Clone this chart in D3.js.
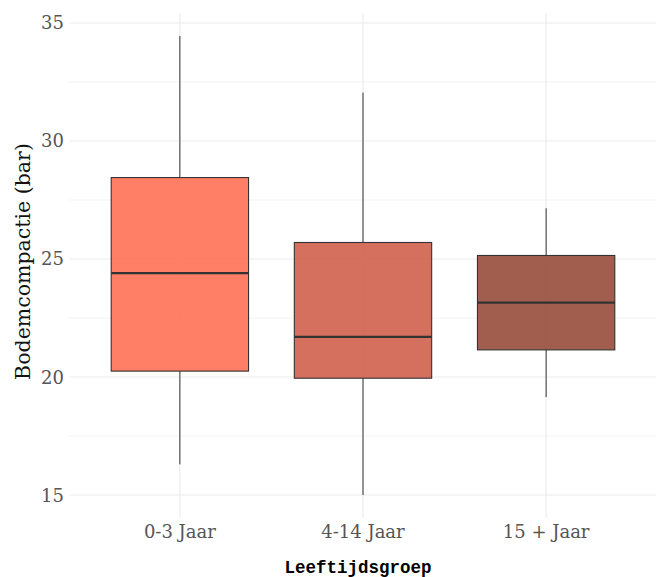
<!DOCTYPE html>
<html><head><meta charset="utf-8">
<script src="https://cdn.jsdelivr.net/npm/d3@7"></script>
<style>body{margin:0;background:#fff}</style>
</head><body>
<svg id="c" width="659" height="577"></svg>
<script>
const categories = ["0-3 Jaar", "4-14 Jaar", "15 + Jaar"];
const whiskerLow = [16.3, 15.0, 19.15];
const q1 = [20.25, 19.95, 21.15];
const median = [24.4, 21.7, 23.15];
const q3 = [28.45, 25.7, 25.15];
const whiskerHigh = [34.45, 32.05, 27.15];
const fills = ["#FF7155", "#D1604D", "#974C3C"];
const yTicks = [15, 20, 25, 30, 35];
const yMinor = [17.5, 22.5, 27.5, 32.5];

const data = categories.map((c, i) => ({c, lo: whiskerLow[i], q1: q1[i], med: median[i], q3: q3[i], hi: whiskerHigh[i], fill: fills[i]}));

const svg = d3.select("#c");
const L = 70, R = 656, T = 13, B = 518;
const yMin = d3.min(whiskerLow), yMax = d3.max(whiskerHigh);
const pad = (yMax - yMin) * 0.05;
const y = d3.scaleLinear().domain([yMin - pad, yMax + pad]).range([B, T]);
const x = d3.scalePoint().domain(categories)
  .range([L + (R - L) * 0.6 / 3.2, R - (R - L) * 0.6 / 3.2]);
const step = x.step();
const cx = d => x(d);
const bw = step * 0.75;

const g = svg.append("g");
g.selectAll(".minor").data(yMinor).join("line")
  .attr("x1", L).attr("x2", R).attr("y1", d => y(d)).attr("y2", d => y(d))
  .attr("stroke", "#f3f3f3").attr("stroke-width", 1);
g.selectAll(".major").data(yTicks).join("line")
  .attr("x1", L).attr("x2", R).attr("y1", d => y(d)).attr("y2", d => y(d))
  .attr("stroke", "#ebebeb").attr("stroke-width", 1.1);
g.selectAll(".vg").data(categories).join("line")
  .attr("x1", d => cx(d)).attr("x2", d => cx(d)).attr("y1", T).attr("y2", B)
  .attr("stroke", "#ebebeb").attr("stroke-width", 1.1);

g.selectAll(".wu").data(data).join("line")
  .attr("x1", d => cx(d.c)).attr("x2", d => cx(d.c)).attr("y1", d => y(d.hi)).attr("y2", d => y(d.q3))
  .attr("stroke", "#333").attr("stroke-width", 1);
g.selectAll(".wl").data(data).join("line")
  .attr("x1", d => cx(d.c)).attr("x2", d => cx(d.c)).attr("y1", d => y(d.q1)).attr("y2", d => y(d.lo))
  .attr("stroke", "#333").attr("stroke-width", 1);
g.selectAll(".box").data(data).join("rect")
  .attr("x", d => cx(d.c) - bw / 2).attr("width", bw)
  .attr("y", d => y(d.q3)).attr("height", d => y(d.q1) - y(d.q3))
  .attr("fill", d => d.fill).attr("fill-opacity", 0.9)
  .attr("stroke", "#333").attr("stroke-width", 1.1);
g.selectAll(".med").data(data).join("line")
  .attr("x1", d => cx(d.c) - bw / 2).attr("x2", d => cx(d.c) + bw / 2)
  .attr("y1", d => y(d.med)).attr("y2", d => y(d.med))
  .attr("stroke", "#333").attr("stroke-width", 2.2);

const serif = "'DejaVu Serif', 'Liberation Serif', serif";
svg.append("g").selectAll("text").data(yTicks).join("text")
  .attr("x", 64).attr("y", d => y(d)).attr("dy", "0.36em")
  .attr("text-anchor", "end").attr("font-family", serif).attr("font-size", 18)
  .attr("fill", "#555").text(d => d);
svg.append("g").selectAll("text").data(categories).join("text")
  .attr("x", d => cx(d)).attr("y", 538)
  .attr("text-anchor", "middle").attr("font-family", serif).attr("font-size", 18)
  .attr("fill", "#555").text(d => d);
svg.append("text").attr("transform", `translate(30,${(T + B) / 2 - 4}) rotate(-90)`)
  .attr("text-anchor", "middle").attr("font-family", serif).attr("font-size", 20.5)
  .attr("fill", "#111").text("Bodemcompactie (bar)");
svg.append("text").attr("x", 358).attr("y", 573)
  .attr("text-anchor", "middle").attr("font-family", "'Liberation Mono', 'DejaVu Sans Mono', monospace")
  .attr("font-weight", "bold").attr("font-size", 17.5).attr("fill", "#000").text("Leeftijdsgroep");
</script>
</body></html>
